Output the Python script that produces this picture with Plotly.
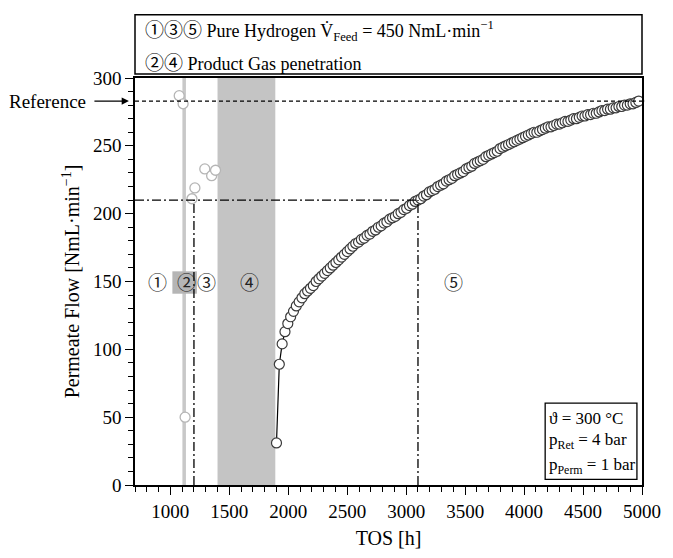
import plotly.graph_objects as go

# Time on stream [h] and permeate flow [NmL/min] of the final hydrogen phase (5)
tos_h2 = [1900, 1924, 1948, 1972, 1996, 2020, 2044, 2068, 2092, 2116, 2140, 2164, 2188, 2212,
          2236, 2260, 2284, 2308, 2332, 2356, 2380, 2404, 2428, 2452, 2476, 2500, 2524, 2548,
          2572, 2596, 2620, 2644, 2668, 2692, 2716, 2740, 2764, 2788, 2812, 2836, 2860, 2884,
          2908, 2932, 2956, 2980, 3004, 3028, 3052, 3076, 3100, 3124, 3148, 3172, 3196, 3220,
          3244, 3268, 3292, 3316, 3340, 3364, 3388, 3412, 3436, 3460, 3484, 3508, 3532, 3556,
          3580, 3604, 3628, 3652, 3676, 3700, 3724, 3748, 3772, 3796, 3820, 3844, 3868, 3892,
          3916, 3940, 3964, 3988, 4012, 4036, 4060, 4084, 4108, 4132, 4156, 4180, 4204, 4228,
          4252, 4276, 4300, 4324, 4348, 4372, 4396, 4420, 4444, 4468, 4492, 4516, 4540, 4564,
          4588, 4612, 4636, 4660, 4684, 4708, 4732, 4756, 4780, 4804, 4828, 4852, 4876, 4900,
          4924, 4948, 4972]
flow_h2 = [31, 89, 104, 113, 119, 124, 128, 132, 135, 138, 141, 143, 145, 147,
           150, 152, 154, 156, 158, 160, 162, 164, 166, 168, 170, 172, 174, 176,
           178, 179, 181, 182, 184, 185, 187, 188, 190, 191, 193, 194, 196, 197,
           198, 200, 201, 203, 204, 206, 207, 209, 210, 211, 213, 214, 216, 217,
           218, 220, 221, 222, 224, 225, 226, 228, 229, 230, 231, 233, 234, 235,
           237, 238, 239, 240, 242, 243, 244, 245, 246, 248, 249, 250, 251, 252,
           253, 254, 255, 256, 257, 258, 259, 260, 260, 261, 262, 263, 264, 264,
           265, 266, 266, 267, 268, 268, 269, 270, 270, 271, 272, 272, 273, 273,
           274, 274, 275, 276, 276, 277, 277, 278, 278, 279, 279, 280, 280, 281,
           281, 282, 283]

# Earlier phases (1)-(3)
tos_early = [1075, 1108, 1125, 1183, 1208, 1292, 1350, 1383]
flow_early = [287, 281, 50, 211, 219, 233, 228, 232]

reference_flow = 283
marker_flow = 210
marker_tos = [1200, 3100]

phase_labels = ["①", "②", "③", "④", "⑤"]
phase_tos = [890, 1133, 1308, 1675, 3400]
phase_flow = 150

x_ticks = [1000, 1500, 2000, 2500, 3000, 3500, 4000, 4500, 5000]
y_ticks = [0, 50, 100, 150, 200, 250, 300]

SERIF = "Liberation Serif, Times New Roman, serif"
CIRC = "Noto Sans CJK JP, DejaVu Sans, sans-serif"


def circled(s, size):
    return f'<span style="font-family:{CIRC};font-size:{size}px">{s}</span>'


fig = go.Figure()

# Shaded phases
fig.add_shape(type="rect", xref="x", yref="y", x0=1400, x1=1890, y0=0, y1=300,
              fillcolor="#c4c4c4", line_width=0, layer="below")
fig.add_shape(type="rect", xref="x", yref="y", x0=1102, x1=1132, y0=0, y1=300,
              fillcolor="#c8c8c8", line_width=0, layer="below")
fig.add_shape(type="rect", xref="x", yref="y", x0=1017, x1=1225, y0=141, y1=157.5,
              fillcolor="#b5b5b5", line_width=0, layer="below")

# Reference and marker lines
fig.add_shape(type="line", xref="x", yref="y", x0=700, x1=5000,
              y0=reference_flow, y1=reference_flow,
              line=dict(color="black", width=1.3, dash="4px,3px"))
fig.add_shape(type="line", xref="x", yref="y", x0=700, x1=marker_tos[1],
              y0=marker_flow, y1=marker_flow,
              line=dict(color="black", width=1.3, dash="9px,3px,2px,3px"))
for t in marker_tos:
    fig.add_shape(type="line", xref="x", yref="y", x0=t, x1=t, y0=0, y1=marker_flow,
                  line=dict(color="black", width=1.3, dash="9px,3px,2px,3px"))

fig.add_trace(go.Scatter(
    x=tos_early, y=flow_early, mode="markers",
    marker=dict(symbol="circle", size=10, color="white",
                line=dict(color="#b5b5b5", width=1.3)),
    showlegend=False, cliponaxis=False))

fig.add_trace(go.Scatter(
    x=tos_h2, y=flow_h2, mode="lines+markers",
    line=dict(color="black", width=1.2),
    marker=dict(symbol="circle", size=10, color="white",
                line=dict(color="#3a3a3a", width=1.2)),
    showlegend=False, cliponaxis=False))

# Phase numbers
for lab, t in zip(phase_labels, phase_tos):
    fig.add_annotation(x=t, y=phase_flow, xref="x", yref="y", text=circled(lab, 19),
                       showarrow=False, yanchor="middle", xanchor="center",
                       font=dict(family=CIRC, size=19, color="#222"))

# "Reference" pointer at the left axis
fig.add_annotation(x=-0.012, y=reference_flow, xref="paper", yref="y", text="",
                   showarrow=True, ax=-36, ay=0, arrowhead=2, arrowsize=1.2,
                   arrowwidth=1.2, arrowcolor="black")
fig.add_annotation(x=-0.092, y=reference_flow, xref="paper", yref="y", text="Reference",
                   xanchor="right", yanchor="middle", showarrow=False,
                   font=dict(family=SERIF, size=19, color="black"))

# Legend box above the plot
fig.add_shape(type="rect", xref="paper", yref="paper", x0=0, x1=1, y0=1.0096, y1=1.1555,
              line=dict(color="black", width=1.5), fillcolor="white")
fig.add_annotation(x=0.015, y=1.1196, xref="paper", yref="paper",
                   xanchor="left", yanchor="middle",
                   text=circled("①③⑤", 19)
                   + " Pure Hydrogen V\u0307<sub>Feed</sub> = 450 NmL·min<sup>−1</sup>",
                   showarrow=False, font=dict(family=SERIF, size=18, color="black"))
fig.add_annotation(x=0.015, y=1.0407, xref="paper", yref="paper",
                   xanchor="left", yanchor="middle",
                   text=circled("②④", 19) + " Product Gas penetration",
                   showarrow=False, font=dict(family=SERIF, size=18, color="black"))

# Operating conditions box
fig.add_shape(type="rect", xref="paper", yref="paper", x0=0.809, x1=0.990, y0=0.014, y1=0.201,
              line=dict(color="black", width=1.3), fillcolor="white")
cond_text = ["ϑ = 300 °C", "p<sub>Ret</sub> = 4 bar", "p<sub>Perm</sub> = 1 bar"]
cond_y = [0.163, 0.108, 0.046]
for txt, yy in zip(cond_text, cond_y):
    fig.add_annotation(x=0.813, y=yy, xref="paper", yref="paper",
                       xanchor="left", yanchor="middle",
                       text=txt, showarrow=False,
                       font=dict(family=SERIF, size=17, color="black"))

axis_common = dict(showline=True, linecolor="black", linewidth=1.5, mirror=True,
                   ticks="outside", ticklen=8, tickwidth=1.2, tickcolor="black",
                   showgrid=False, zeroline=False,
                   tickfont=dict(family=SERIF, size=19, color="black"))

fig.update_xaxes(range=[700, 5000], tickvals=x_ticks,
                 minor=dict(dtick=100, tick0=0, ticks="outside", ticklen=5, tickcolor="black"),
                 title=dict(text="TOS [h]", font=dict(family=SERIF, size=20, color="black"),
                            standoff=10),
                 **axis_common)
fig.update_yaxes(range=[0, 300], tickvals=y_ticks,
                 minor=dict(dtick=10, tick0=0, ticks="outside", ticklen=5, tickcolor="black"),
                 title=dict(text="Permeate Flow [NmL·min<sup>−1</sup>]",
                            font=dict(family=SERIF, size=20, color="black"), standoff=8),
                 **axis_common)

fig.update_layout(width=673, height=558, plot_bgcolor="white", paper_bgcolor="white",
                  margin=dict(l=135, r=20, t=78, b=62), showlegend=False)

fig.write_html("out.html")
